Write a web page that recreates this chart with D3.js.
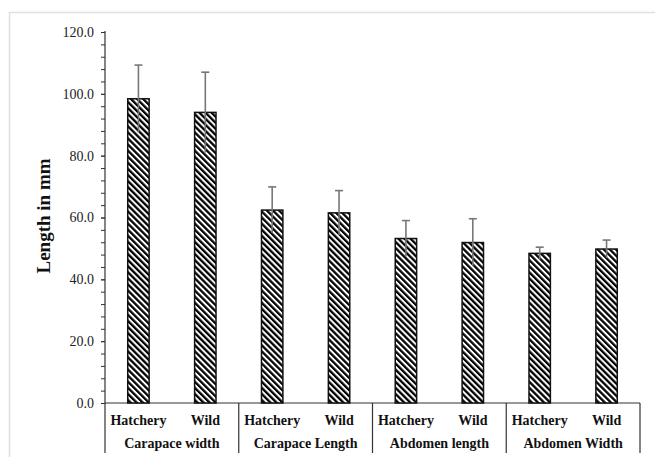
<!DOCTYPE html>
<html>
<head>
<meta charset="utf-8">
<script src="https://cdn.jsdelivr.net/npm/d3@7"></script>
<style>
  html, body { margin: 0; padding: 0; background: #fff; }
  svg { display: block; }
</style>
</head>
<body>
<div id="chart"></div>
<script>
// Crab morphometrics: hatchery vs wild, mean ± SD (mm)
const groups = ["Carapace width", "Carapace Length", "Abdomen length", "Abdomen Width"];
const sources = ["Hatchery", "Wild"];
const means = [98.4, 94.0, 62.4, 61.5, 53.2, 51.9, 48.4, 49.8];
const sds = [10.9, 13.0, 7.5, 7.2, 5.8, 7.7, 2.0, 2.9];
const yTicks = [0, 20, 40, 60, 80, 100, 120];

const W = 655, H = 457;
const plotLeft = 105, plotRight = 640, plotTop = 32, plotBase = 403;

const svg = d3.select("#chart").append("svg")
  .attr("width", W).attr("height", H);

// outer frame
svg.append("rect")
  .attr("x", 9.5).attr("y", 12.5)
  .attr("width", W + 20).attr("height", H + 20)
  .attr("fill", "none").attr("stroke", "#e0e0e0").attr("stroke-width", 1.5);

// diagonal hatch
const defs = svg.append("defs");
const pat = defs.append("pattern")
  .attr("id", "hatch")
  .attr("patternUnits", "userSpaceOnUse")
  .attr("width", 4.3).attr("height", 4.3)
  .attr("patternTransform", "rotate(-45)");
pat.append("rect").attr("width", 4.3).attr("height", 4.3).attr("fill", "#fff");
pat.append("rect").attr("width", 2.3).attr("height", 4.3).attr("fill", "#000");

const bars = means.map((m, i) => ({
  key: i,
  group: groups[Math.floor(i / 2)],
  source: sources[i % 2],
  mean: m,
  sd: sds[i]
}));

const x = d3.scaleBand().domain(bars.map(d => d.key)).range([plotLeft, plotRight]).paddingInner(0.68).paddingOuter(0.34);
const xg = d3.scaleBand().domain(groups).range([plotLeft, plotRight]);
const y = d3.scaleLinear().domain([0, 120]).range([plotBase, plotTop]);

const font = "Liberation Serif, Times New Roman, serif";

// y axis with minor ticks
const minor = d3.range(0, 121, 4);
svg.append("g")
  .attr("transform", `translate(${plotLeft},0)`)
  .call(d3.axisLeft(y).tickValues(minor).tickSize(4).tickFormat(""))
  .call(g => g.select(".domain").remove())
  .call(g => g.selectAll("line").attr("stroke", "#333"));

svg.append("g")
  .attr("transform", `translate(${plotLeft},0)`)
  .call(d3.axisLeft(y).tickValues(yTicks).tickSize(4).tickPadding(7).tickFormat(d3.format(".1f")))
  .call(g => g.select(".domain").remove())
  .call(g => g.selectAll("line").attr("stroke", "#333"))
  .call(g => g.selectAll("text")
    .attr("font-family", font)
    .attr("font-size", 14).attr("fill", "#222"));

svg.append("line")
  .attr("x1", plotLeft).attr("x2", plotLeft).attr("y1", plotTop - 1).attr("y2", 453)
  .attr("stroke", "#333").attr("stroke-width", 1.2);

// x axis baseline + group separators
svg.append("line")
  .attr("x1", plotLeft).attr("x2", plotRight).attr("y1", plotBase).attr("y2", plotBase)
  .attr("stroke", "#333").attr("stroke-width", 1.2);

groups.forEach(g => {
  svg.append("line")
    .attr("x1", xg(g) + xg.bandwidth()).attr("x2", xg(g) + xg.bandwidth())
    .attr("y1", plotBase).attr("y2", 453)
    .attr("stroke", "#333").attr("stroke-width", 1.2);
});

// bars
svg.append("g").selectAll("rect")
  .data(bars).join("rect")
  .attr("x", d => x(d.key))
  .attr("y", d => y(d.mean))
  .attr("width", x.bandwidth())
  .attr("height", d => plotBase - y(d.mean))
  .attr("fill", "url(#hatch)")
  .attr("stroke", "#111").attr("stroke-width", 1.5);

// error bars
const eb = svg.append("g").attr("stroke", "#777").attr("stroke-width", 1.6);
bars.forEach(d => {
  const cx = x(d.key) + x.bandwidth() / 2;
  eb.append("line").attr("x1", cx).attr("x2", cx)
    .attr("y1", y(d.mean - d.sd)).attr("y2", y(d.mean + d.sd));
  eb.append("line").attr("x1", cx - 4).attr("x2", cx + 4)
    .attr("y1", y(d.mean + d.sd)).attr("y2", y(d.mean + d.sd));
});

// category labels
svg.append("g").selectAll("text")
  .data(bars).join("text")
  .attr("x", d => x(d.key) + x.bandwidth() / 2)
  .attr("y", 425)
  .attr("text-anchor", "middle")
  .attr("font-family", font).attr("font-weight", "bold").attr("font-size", 14)
  .attr("fill", "#111")
  .text(d => d.source);

svg.append("g").selectAll("text")
  .data(groups).join("text")
  .attr("x", d => xg(d) + xg.bandwidth() / 2)
  .attr("y", 448)
  .attr("text-anchor", "middle")
  .attr("font-family", font).attr("font-weight", "bold").attr("font-size", 14)
  .attr("fill", "#111")
  .text(d => d);

// y title
svg.append("text")
  .attr("transform", `translate(50,216) rotate(-90)`)
  .attr("text-anchor", "middle")
  .attr("font-family", font).attr("font-weight", "bold").attr("font-size", 19)
  .attr("fill", "#111")
  .text("Length in mm");
</script>
</body>
</html>
